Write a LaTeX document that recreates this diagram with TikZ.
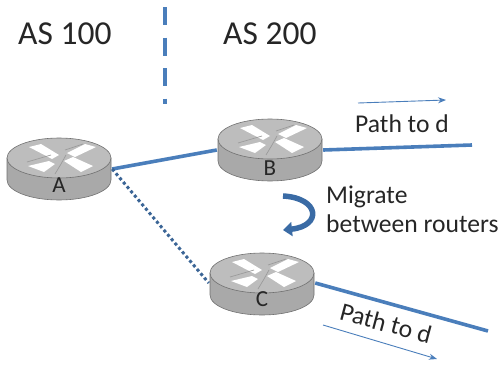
\documentclass[tikz,border=0pt]{standalone}
\usepackage{fontspec}
\setmainfont{Carlito}
\usetikzlibrary{arrows.meta}
\definecolor{linkblue}{HTML}{4A7EBB}
\definecolor{curveblue}{HTML}{3A6BA5}
\definecolor{sidegray}{HTML}{A9A9A9}
\definecolor{topgray}{HTML}{BDBDBD}
\definecolor{rimgray}{HTML}{707070}
\tikzset{
  x=1pt,y=-1pt,
  routerbox/.style={minimum width=106pt,minimum height=62pt,inner sep=0pt,font=\fontsize{23}{23}\selectfont,text=black!85},
  link/.style={linkblue,line width=3.6pt},
  dotlink/.style={linkblue!80!black,line width=3pt,dash pattern=on 3pt off 2.7pt},
  thinarrow/.style={linkblue,line width=0.9pt,-{Stealth[length=8pt,width=6pt]}},
  lbl/.style={inner sep=0pt,text=black!85,font=\fontsize{25.6}{29}\selectfont},
  aslbl/.style={inner sep=0pt,text=black!85,font=\fontsize{33.5}{33.5}\selectfont}
}
% \routericon{cx}{cy}: cx,cy is the centre of the top ellipse
\newcommand{\routericon}[2]{%
  \begin{scope}[shift={(#1,#2)}]
    \fill[sidegray,draw=rimgray,line width=0.6pt] (-52,0) -- (-52,22) arc[start angle=180,end angle=0,x radius=52,y radius=20] -- (52,0) -- cycle;
    \fill[topgray,draw=rimgray,line width=0.6pt] (0,0) ellipse[x radius=52,y radius=20];
    \fill[white] (-30,-11) -- (-18,-14) -- (0,-3) -- (-7,1) -- cycle;
    \fill[white] (-31,8) -- (-10,3) -- (-4,6) -- (-15,14) -- cycle;
    \fill[white] (5,3) -- (14,-1) -- (34,8) -- (22,14) -- cycle;
    \fill[white] (8,-5) -- (26,-14) -- (37,-11) -- (16,-1) -- cycle;
    \draw[rimgray!70,line width=0.7pt] (-32,4) -- (-8,-3) (6,-8) -- (24,-14) (-4,16) -- (2,6) -- (7,-3);
  \end{scope}}
\newcommand{\rlabel}[2]{\raisebox{-#1pt}[0pt][0pt]{#2}}
\begin{document}
\begin{tikzpicture}
\useasboundingbox (0,0) rectangle (503,364);
\routericon{59}{158}
\routericon{270}{139}
\routericon{262}{273}
\node[routerbox] (A) at (59,169) {\rlabel{23}{A}};
\node[routerbox] (B) at (270,150) {\rlabel{25}{B}};
\node[routerbox] (C) at (262,283) {\rlabel{23}{C}};
\coordinate (bEnd) at (472,145);
\coordinate (cEnd) at (488,331);
\draw[link] (A.east) -- (B.west);
\draw[dotlink] (A.east) -- (C.west);
\draw[link] (B.east) -- (bEnd);
\draw[link] (C.east) -- (cEnd);
\coordinate (divTop) at (165,0);
\coordinate (divBot) at (165,104);
\draw[linkblue,line width=4.4pt,dash pattern=on 18pt off 12.5pt,dash phase=23.5pt] (divTop) -- (divBot);
\node[aslbl,anchor=west] (as100) at (18,34) {AS 100};
\node[aslbl,anchor=west] (as200) at (223,34) {AS 200};
\coordinate (p1s) at (358,103);
\coordinate (p1e) at (446,100);
\draw[thinarrow] (p1s) -- (p1e);
\node[lbl,anchor=west] (path1) at (355,124) {Path to d};
\node[lbl,anchor=west,align=left] (mig) at (326,209) {Migrate\\between routers};
\coordinate (p2s) at (323,325);
\coordinate (p2e) at (437,359);
\draw[thinarrow] (p2s) -- (p2e);
\node[lbl,rotate=-15] (path2) at (386,323) {Path to d};
\coordinate (cv1) at (283,196);
\coordinate (cv2) at (283,230);
\draw[curveblue,line width=5.5pt,-{Triangle[length=9pt,width=14pt]}] (cv1) .. controls (320,198) and (322,226) .. (cv2);
\end{tikzpicture}
\end{document}
